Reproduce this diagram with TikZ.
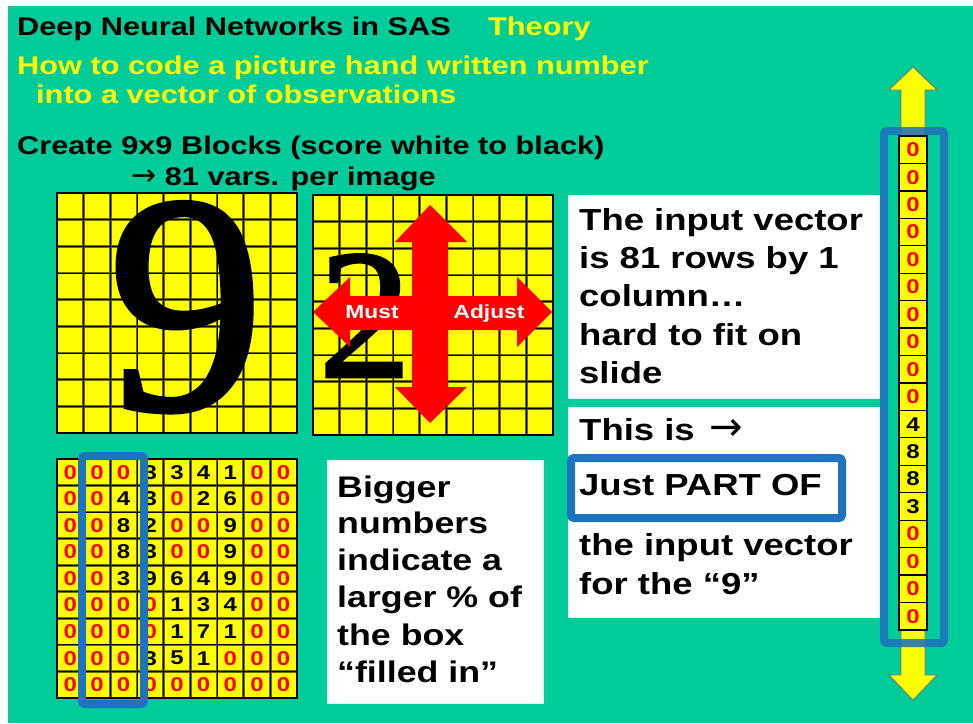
\documentclass[tikz,border=0pt]{standalone}
\usepackage{fontspec}
\setmainfont{Liberation Sans}
\newfontfamily\wbfam{Liberation Sans}[FakeStretch=1.2]
\newfontfamily\tmsfam{Liberation Serif}[FakeBold=1.6]
\newfontfamily\arrfam{DejaVu Sans}
\newcommand\wbf{\wbfam\bfseries}
\newcommand\rarr[1]{{\arrfam\mdseries\fontsize{#1}{#1}\selectfont →}}
\definecolor{teal}{RGB}{0,204,153}
\definecolor{blu}{RGB}{30,115,190}
\definecolor{yel}{RGB}{255,255,0}
\definecolor{olv}{RGB}{110,110,0}
\begin{document}
\begin{tikzpicture}[x=1pt,y=-1pt,
  head/.style={inner sep=0,anchor=base west,font=\wbf\fontsize{25.6}{25.6}\selectfont},
  boxtxt/.style={inner sep=0,anchor=base west,font=\wbf\fontsize{30.4}{30.4}\selectfont},
  boxtxtb/.style={inner sep=0,anchor=base west,font=\wbf\fontsize{29.8}{29.8}\selectfont},
  whitebox/.style={fill=white,draw=white!85!teal,line width=0.8},
  digit/.style={inner sep=0,anchor=center,font=\wbf\fontsize{20}{20}\selectfont},
  bluebox/.style={draw=blu,line width=8,rounded corners=3},
  gshadow/.style={draw=olv,line width=2.6},
  gline/.style={draw=black,line width=0.9}]
\useasboundingbox (0,0) rectangle (973,723);
\fill[white] (0,0) rectangle (973,723);
\fill[teal] (8,6) rectangle (973,723);

% header texts
\node[head] (t1) at (17,35) {Deep Neural Networks in SAS};
\node[head,text=yel] (t2) at (488,35) {Theory};
\node[head,text=yel] (t3) at (17,74) {How to code a picture hand written number};
\node[head,text=yel] (t4) at (36,103) {into a vector of observations};
\node[head] (t5) at (17,154) {Create 9x9 Blocks (score white to black)};
\node[head] (t6) at (131,185) {\rarr{30} 81 vars. per image};

% white boxes
\fill[whitebox] (568,195) rectangle (879,398);
\fill[whitebox] (568,407) rectangle (879,617);
\fill[whitebox] (327,460) rectangle (543,703);

% grid 1 (nine)
\fill[yel] (57,193) rectangle (297,433);
\foreach \i in {1,...,8} {
  \draw[gshadow] (57+\i*26.667,193) -- ++(0,240);
  \draw[gshadow] (57,193+\i*26.667) -- ++(240,0);
}
\foreach \i in {1,...,8} {
  \draw[gline] (57+\i*26.667,193) -- ++(0,240);
  \draw[gline] (57,193+\i*26.667) -- ++(240,0);
}
\draw[black,line width=1.4] (57,193) rectangle (297,433);
\node[inner sep=0,anchor=base,font=\tmsfam\fontsize{312}{312}\selectfont] (nine) at (186,409) {9};

% grid 2 (two)
\fill[yel] (313,195) rectangle (553,435);
\foreach \i in {1,...,8} {
  \draw[gshadow] (313+\i*26.667,195) -- ++(0,240);
  \draw[gshadow] (313,195+\i*26.667) -- ++(240,0);
}
\foreach \i in {1,...,8} {
  \draw[gline] (313+\i*26.667,195) -- ++(0,240);
  \draw[gline] (313,195+\i*26.667) -- ++(240,0);
}
\draw[black,line width=1.4] (313,195) rectangle (553,435);
\node[inner sep=0,anchor=base,font=\tmsfam\fontsize{185}{185}\selectfont] (two) at (365,377) {2};
% red arrows
\fill[red] (313,312) -- (350,277) -- (350,296) -- (517,296) -- (517,277) -- (552,312)
  -- (517,347) -- (517,330) -- (350,330) -- (350,347) -- cycle;
\fill[red] (430,205) -- (467,242) -- (448,242) -- (448,387) -- (467,387) -- (430,423)
  -- (395,387) -- (412,387) -- (412,242) -- (395,242) -- cycle;
\node[inner sep=0,anchor=base,text=white,font=\wbf\fontsize{19}{19}\selectfont] (must) at (372,318) {Must};
\node[inner sep=0,anchor=base,text=white,font=\wbf\fontsize{19}{19}\selectfont] (adj) at (489,318) {Adjust};

% numbers grid
\fill[yel] (57,459) rectangle (297,698);
\foreach \i in {1,...,8} {
  \draw[gshadow] (57+\i*26.667,459) -- ++(0,239);
  \draw[gshadow] (57,459+\i*26.556) -- ++(240,0);
}
\foreach \i in {1,...,8} {
  \draw[gline] (57+\i*26.667,459) -- ++(0,239);
  \draw[gline] (57,459+\i*26.556) -- ++(240,0);
}
\draw[black,line width=1.4] (57,459) rectangle (297,698);
\foreach \row [count=\r from 0] in {{0,0,0,3,3,4,1,0,0},{0,0,4,3,0,2,6,0,0},{0,0,8,2,0,0,9,0,0},{0,0,8,3,0,0,9,0,0},{0,0,3,9,6,4,9,0,0},{0,0,0,0,1,3,4,0,0},{0,0,0,0,1,7,1,0,0},{0,0,0,3,5,1,0,0,0},{0,0,0,0,0,0,0,0,0}} {
  \foreach \v [count=\c from 0] in \row {
    \node[digit] (n\r-\c) at (57+26.667*\c+13.33,459+26.556*\r+13.28) {\ifnum\v=0 \textcolor{red}{0}\else\v\fi};
  }
}
\draw[bluebox] (82,456) rectangle (144,704);

% box texts
\node[boxtxt] (a1) at (579,230) {The input vector};
\node[boxtxt] (a2) at (579,268) {is 81 rows by 1};
\node[boxtxt] (a3) at (579,306) {column…};
\node[boxtxt] (a4) at (579,345) {hard to fit on};
\node[boxtxt] (a5) at (579,383) {slide};
\node[boxtxt] (b1) at (579,440) {This is \,\rarr{40}};
\node[boxtxt] (b2) at (579,495) {Just PART OF};
\node[boxtxt] (b3) at (579,555) {the input vector};
\node[boxtxt] (b4) at (579,594) {for the “9”};
\draw[bluebox] (571,458) rectangle (842,518);
\node[boxtxtb] (c1) at (337,497) {Bigger};
\node[boxtxtb] (c2) at (337,533) {numbers};
\node[boxtxtb] (c3) at (337,570) {indicate a};
\node[boxtxtb] (c4) at (337,607) {larger \% of};
\node[boxtxtb] (c5) at (337,645) {the box};
\node[boxtxtb] (c6) at (337,682) {“filled in”};

% yellow double arrow
\filldraw[fill=yel,draw=black!55,line width=0.8] (913,67) -- (937,90) -- (925,90) -- (925,675) -- (937,675) -- (913,700)
  -- (889,675) -- (901,675) -- (901,90) -- (889,90) -- cycle;

% right column
\foreach \v [count=\k from 0] in {0,0,0,0,0,0,0,0,0,0,4,8,8,3,0,0,0,0} {
  \filldraw[fill=yel,draw=black,line width=1.3] (899,136+27.44*\k) rectangle ++(28,27.44);
  \node[digit] (v\k) at (913,136+27.44*\k+13.72) {\ifnum\v=0 \textcolor{red}{0}\else\v\fi};
}
\draw[bluebox,draw opacity=0.88] (884,131) rectangle (944,643);
\end{tikzpicture}
\end{document}
